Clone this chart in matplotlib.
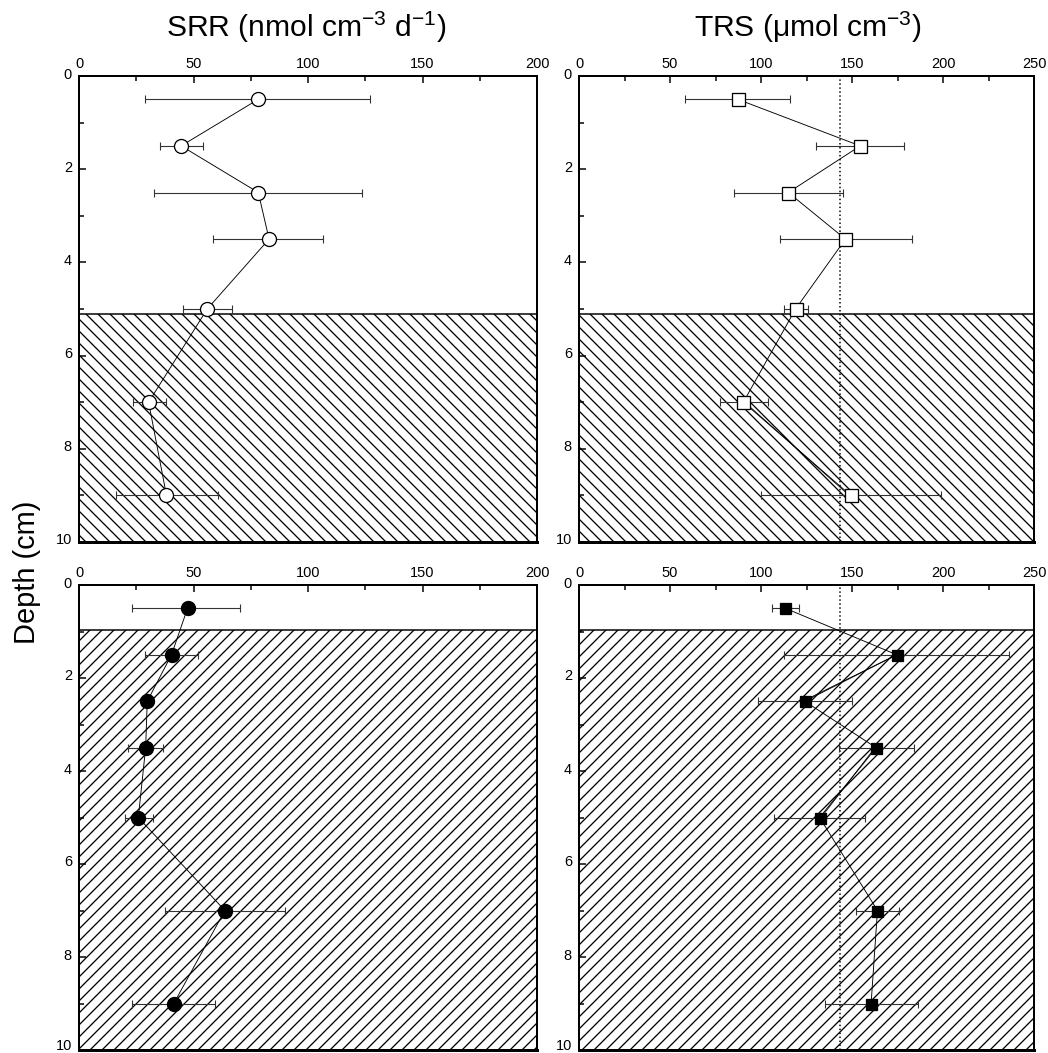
import numpy as np
import matplotlib
matplotlib.use("Agg")
import matplotlib.pyplot as plt
import matplotlib.transforms as mtransforms
from matplotlib.ticker import MultipleLocator

plt.rcParams['font.family'] = ['Liberation Sans', 'DejaVu Sans']
plt.rcParams['mathtext.default'] = 'regular'
plt.rcParams['hatch.linewidth'] = 1.3

# depths (cm), same for every panel
depth = [0.5, 1.5, 2.5, 3.5, 5.0, 7.0, 9.0]

# SRR, top station (open circles)
srr_top = [78.3, 44.6, 78.3, 83.0, 56.0, 30.4, 38.2]
srr_top_lo = [29.0, 35.3, 32.6, 58.7, 45.2, 23.7, 16.0]
srr_top_hi = [127.0, 54.3, 123.4, 106.5, 66.8, 38.2, 60.8]

# TRS, top station (open squares)
trs_top = [87.2, 154.5, 115.0, 146.4, 119.0, 90.3, 149.3]
trs_top_lo = [58.0, 130.3, 85.2, 110.2, 112.8, 77.3, 100.0]
trs_top_hi = [116.0, 178.6, 145.0, 182.8, 126.0, 103.8, 198.7]

# SRR, bottom station (filled circles)
srr_bot = [47.4, 40.4, 29.8, 29.1, 25.9, 63.7, 41.4]
srr_bot_lo = [23.1, 29.0, 27.0, 21.6, 19.9, 37.7, 23.1]
srr_bot_hi = [70.5, 52.0, 32.5, 36.8, 32.5, 90.0, 59.6]

# TRS, bottom station (filled squares)
trs_bot = [113.3, 174.6, 124.0, 163.3, 132.2, 164.0, 160.5]
trs_bot_lo = [106.2, 112.8, 98.4, 142.8, 107.3, 152.3, 135.3]
trs_bot_hi = [120.8, 236.2, 150.0, 184.1, 157.0, 175.7, 186.1]

# doubled connecting segments seen in the TRS panels
trs_top_extra_x = [92.5, 147.0]
trs_top_extra_y = [7.05, 8.95]
trs_bot_extra1_x = [172.0, 127.0]
trs_bot_extra1_y = [1.55, 2.42]
trs_bot_extra2_x = [161.0, 135.0]
trs_bot_extra2_y = [3.58, 4.9]

# top of the hatched layer (cm)
layer_top = [5.1, 0.96]
# dotted reference line in TRS panels
trs_ref = 143.5

W, H = 1048, 1053
fig = plt.figure(figsize=(W / 72, H / 72), dpi=72)


def make_ax(l, t, r, b, xmax, hatch, htop):
    ax = fig.add_axes([l / W, 1 - b / H, (r - l) / W, (b - t) / H])
    ax.set_xlim(0, xmax)
    ax.set_ylim(10, 0)
    ax.xaxis.tick_top()
    ax.xaxis.set_major_locator(MultipleLocator(50))
    ax.xaxis.set_minor_locator(MultipleLocator(25))
    ax.yaxis.set_major_locator(MultipleLocator(2))
    ax.yaxis.set_minor_locator(MultipleLocator(1))
    ax.tick_params(which='both', direction='in', width=1.5, labelsize=14.5,
                   top=True, bottom=False, left=True, right=False)
    ax.tick_params(which='major', length=7)
    ax.tick_params(axis='x', which='major', pad=5)
    ax.tick_params(axis='y', which='major', pad=7)
    ax.tick_params(which='minor', length=5)
    fig.canvas.draw()
    labels = ax.get_yticklabels()
    for lbl in labels:
        # labels sit a little above their ticks; keep the bottom "10" inside
        up = 6 if (b > 1000 and lbl.get_text() == '10') else 3
        shift = mtransforms.ScaledTranslation(0, up / 72, fig.dpi_scale_trans)
        lbl.set_transform(lbl.get_transform() + shift)
    for s in ['left', 'top', 'right']:
        ax.spines[s].set_linewidth(2)
    ax.spines['bottom'].set_linewidth(3)
    ax.axhspan(htop, 10, facecolor='white', edgecolor='black',
               hatch=hatch, linewidth=1.5, zorder=1)
    return ax


def draw(ax, x, lo, hi, marker, ms, filled):
    x = np.array(x)
    err = [x - np.array(lo), np.array(hi) - x]
    ax.errorbar(x, depth, xerr=err, fmt='none', ecolor='#333333',
                elinewidth=1.1, capsize=4, capthick=1.1, zorder=2)
    ax.plot(x, depth, color='black', lw=0.9, zorder=3)
    ax.plot(x, depth, ls='none', marker=marker, ms=ms,
            mfc='black' if filled else 'white', mec='black', mew=1.3, zorder=4)


ax1 = make_ax(79, 76, 537, 542, 200, '\\\\', layer_top[0])
draw(ax1, srr_top, srr_top_lo, srr_top_hi, 'o', 14, False)

ax2 = make_ax(579, 76, 1034, 542, 250, '\\\\', layer_top[0])
ax2.axvline(trs_ref, color='black', ls=':', lw=1.5, zorder=2)
ax2.plot(trs_top_extra_x, trs_top_extra_y, color='black', lw=0.8, zorder=3)
draw(ax2, trs_top, trs_top_lo, trs_top_hi, 's', 13, False)

ax3 = make_ax(79, 585, 537, 1050, 200, '//', layer_top[1])
draw(ax3, srr_bot, srr_bot_lo, srr_bot_hi, 'o', 14, True)

ax4 = make_ax(579, 585, 1034, 1050, 250, '//', layer_top[1])
ax4.axvline(trs_ref, color='black', ls=':', lw=1.5, zorder=2)
ax4.plot(trs_bot_extra1_x, trs_bot_extra1_y, color='black', lw=0.8, zorder=3)
ax4.plot(trs_bot_extra2_x, trs_bot_extra2_y, color='black', lw=0.8, zorder=3)
draw(ax4, trs_bot, trs_bot_lo, trs_bot_hi, 's', 11, True)

fig.text(306 / W, 1 - 37 / H, 'SRR (nmol cm$^{-3}$ d$^{-1}$)',
         ha='center', va='baseline', fontsize=30)
fig.text(808 / W, 1 - 37 / H, 'TRS (μmol cm$^{-3}$)',
         ha='center', va='baseline', fontsize=30)
fig.text(27 / W, 1 - 572 / H, 'Depth (cm)', rotation=90,
         ha='center', va='center', fontsize=29)

fig.savefig('out.png', dpi=72)
